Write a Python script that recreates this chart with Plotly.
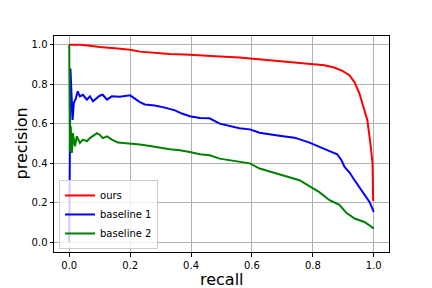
import plotly.graph_objects as go

# ---- data ----
ours_recall = [0.0, 0.035, 0.068, 0.10, 0.15, 0.2, 0.232, 0.281, 0.33, 0.396, 0.429, 0.494,
               0.559, 0.608, 0.69, 0.756, 0.8, 0.838, 0.87, 0.897, 0.92, 0.937, 0.953,
               0.969, 0.979, 0.989, 0.996, 0.998]
ours_precision = [1.0, 1.0, 0.995, 0.988, 0.982, 0.975, 0.965, 0.958, 0.953, 0.949, 0.945, 0.94,
                  0.935, 0.928, 0.92, 0.91, 0.904, 0.896, 0.885, 0.868, 0.846, 0.81, 0.753,
                  0.668, 0.618, 0.5, 0.40, 0.21]

b1_recall = [0.0, 0.004, 0.011, 0.015, 0.022, 0.028, 0.035, 0.045, 0.058, 0.068, 0.078, 0.091,
             0.10, 0.110, 0.124, 0.14, 0.166, 0.2, 0.21, 0.232, 0.248, 0.281, 0.314, 0.347,
             0.37, 0.396, 0.429, 0.461, 0.494, 0.559, 0.593, 0.625, 0.69, 0.74, 0.789, 0.82,
             0.855, 0.88, 0.894, 0.904, 0.92, 0.937, 0.953, 0.969, 0.986, 1.0]
b1_precision = [0.0, 0.88, 0.62, 0.705, 0.73, 0.764, 0.739, 0.747, 0.722, 0.739, 0.714, 0.73,
                0.742, 0.747, 0.722, 0.739, 0.737, 0.744, 0.732, 0.71, 0.698, 0.693, 0.682,
                0.668, 0.652, 0.638, 0.629, 0.628, 0.601, 0.578, 0.572, 0.555, 0.54, 0.53,
                0.505, 0.483, 0.462, 0.446, 0.416, 0.382, 0.355, 0.315, 0.281, 0.247, 0.205, 0.155]

b2_recall = [0.0, 0.002, 0.005, 0.009, 0.012, 0.019, 0.025, 0.035, 0.045, 0.058, 0.068, 0.078,
             0.091, 0.10, 0.110, 0.124, 0.14, 0.16, 0.2, 0.232, 0.265, 0.297, 0.33, 0.363,
             0.396, 0.429, 0.461, 0.494, 0.559, 0.593, 0.625, 0.69, 0.756, 0.82, 0.855, 0.887,
             0.91, 0.937, 0.969, 0.986, 1.0]
b2_precision = [1.0, 0.461, 0.587, 0.453, 0.553, 0.486, 0.537, 0.503, 0.52, 0.512, 0.528, 0.537,
                0.553, 0.545, 0.528, 0.537, 0.52, 0.505, 0.5, 0.495, 0.488, 0.478, 0.471, 0.466,
                0.458, 0.446, 0.441, 0.424, 0.407, 0.40, 0.374, 0.346, 0.315, 0.256, 0.214, 0.19,
                0.15, 0.121, 0.104, 0.087, 0.07]

series_names = ["ours", "baseline 1", "baseline 2"]
series_colors = ["#ff0000", "#0000ff", "#008000"]
tick_vals = [0.0, 0.2, 0.4, 0.6, 0.8, 1.0]
tick_text = ["0.0", "0.2", "0.4", "0.6", "0.8", "1.0"]

FONT = "DejaVu Sans"

fig = go.Figure()
for name, xs, ys, col in zip(series_names,
                             [ours_recall, b1_recall, b2_recall],
                             [ours_precision, b1_precision, b2_precision],
                             series_colors):
    fig.add_trace(go.Scatter(x=xs, y=ys, mode="lines", name=name,
                             line=dict(color=col, width=2)))

axis_common = dict(
    showline=True, mirror=True, linecolor="black", linewidth=1,
    ticks="outside", ticklen=3.5, tickwidth=0.8, tickcolor="black",
    showgrid=True, gridcolor="#b0b0b0", gridwidth=0.8,
    zeroline=False, tickvals=tick_vals, ticktext=tick_text,
    tickfont=dict(family=FONT, size=10, color="black"),
    automargin=False,
)

fig.update_layout(
    width=432, height=288,
    margin=dict(l=54, r=43, t=36, b=36),
    paper_bgcolor="white", plot_bgcolor="white",
    font=dict(family=FONT, size=10, color="black"),
    xaxis=dict(range=[-0.05, 1.05], **axis_common),
    yaxis=dict(range=[-0.048, 1.044], **axis_common),
    legend=dict(
        x=0.015, y=0.014, xanchor="left", yanchor="bottom",
        bgcolor="rgba(255,255,255,0.8)", bordercolor="#cccccc", borderwidth=1,
        font=dict(family=FONT, size=10, color="black"),
        itemwidth=30, tracegroupgap=0,
    ),
    annotations=[
        dict(text="recall", xref="paper", yref="paper", x=0.5, y=-0.125,
             xanchor="center", yanchor="middle", showarrow=False,
             font=dict(family=FONT, size=16, color="black")),
        dict(text="precision", xref="paper", yref="paper", x=-0.1, y=0.5,
             xanchor="center", yanchor="middle", showarrow=False, textangle=-90,
             font=dict(family=FONT, size=16, color="black")),
    ],
)

fig.write_html("out.html")
